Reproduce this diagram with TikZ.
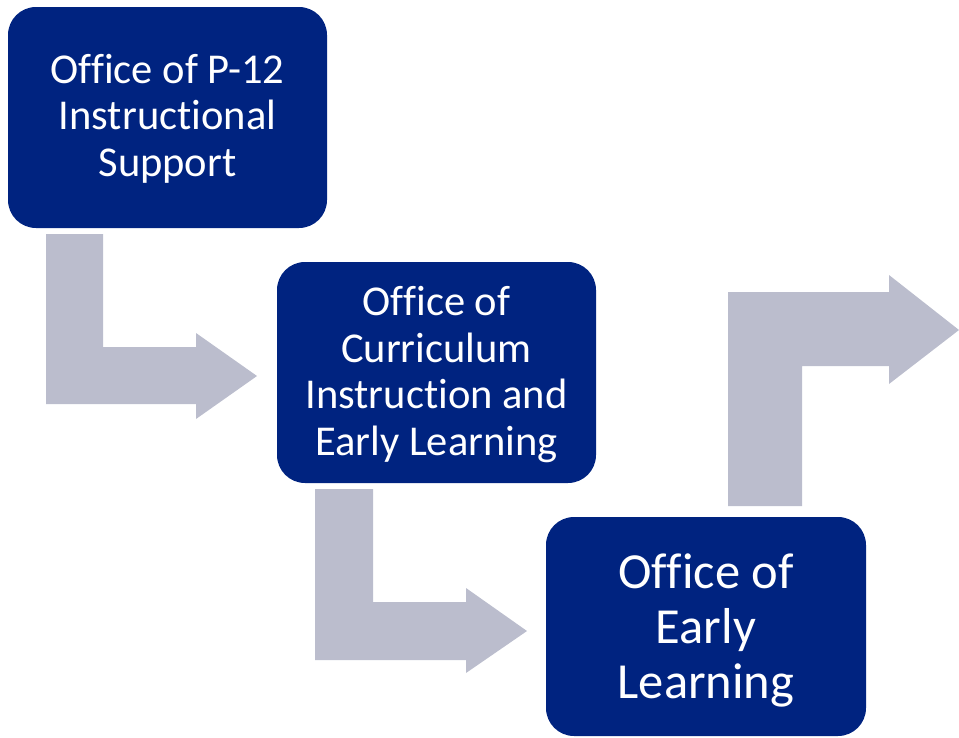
\documentclass[tikz,border=0pt]{standalone}
\usepackage{fontspec}
\setmainfont{Carlito}[Ligatures={NoCommon,NoRare,NoDiscretionary}]
\definecolor{navy}{RGB}{0,35,128}
\definecolor{arrowgray}{RGB}{187,189,205}
\tikzset{
  officebox/.style={fill=navy, rounded corners=28pt, inner sep=0pt, text=white, align=center},
  officetext/.style={text=white, align=center, inner sep=0pt},
  blockarrow/.style={fill=arrowgray, draw=none}
}
\begin{document}
\begin{tikzpicture}[x=1pt, y=-1pt]
\useasboundingbox (0,0) rectangle (959,737);
% block arrows
\fill[blockarrow] (46,234) -- (103,234) -- (103,347) -- (196,347) -- (196,333) -- (257,376) -- (196,419) -- (196,404) -- (46,404) -- cycle;
\fill[blockarrow] (315,489) -- (373,489) -- (373,602) -- (466,602) -- (466,588) -- (527,631) -- (466,673) -- (466,660) -- (315,660) -- cycle;
\fill[blockarrow] (728,506) -- (728,292) -- (889,292) -- (889,275) -- (959,330) -- (889,384) -- (889,366) -- (802,366) -- (802,506) -- cycle;
% boxes
\fill[officebox] (8,7) rectangle (327,228);
\fill[officebox] (277,262) rectangle (596,483);
\fill[officebox] (546,517) rectangle (866,736);
\node[officetext, font=\fontsize{42.5}{46.7}\selectfont] (b1) at (167.5,118.5) {Office of P-12\\Instructional\\Support};
\node[officetext, font=\fontsize{42.5}{46.7}\selectfont] (b2) at (436.5,374.5) {Office of\\Curriculum\\Instruction and\\Early Learning};
\node[officetext, font=\fontsize{50.5}{55.3}\selectfont] (b3) at (706,630.5) {Office of\\Early\\Learning};
\end{tikzpicture}
\end{document}
